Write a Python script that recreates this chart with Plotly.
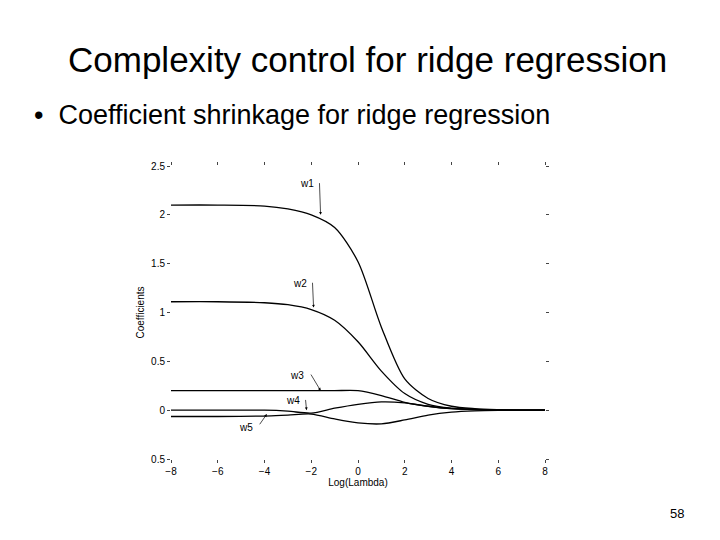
import plotly.graph_objects as go

x = [-8, -6, -4, -3, -2, -1, 0, 1, 2, 3, 4, 5, 6, 7, 8]
w1 = [2.1, 2.1, 2.09, 2.06, 2.0, 1.87, 1.52, 0.85, 0.32, 0.12, 0.04, 0.015, 0.005, 0, 0]
w2 = [1.11, 1.11, 1.1, 1.08, 1.03, 0.92, 0.7, 0.4, 0.17, 0.06, 0.02, 0.008, 0.002, 0, 0]
w3 = [0.2, 0.2, 0.2, 0.2, 0.2, 0.2, 0.2, 0.15, 0.08, 0.04, 0.015, 0.005, 0.001, 0, 0]
w4 = [0, 0, 0, -0.01, -0.03, 0.02, 0.06, 0.085, 0.075, 0.04, 0.015, 0.005, 0.001, 0, 0]
w5 = [-0.065, -0.065, -0.06, -0.05, -0.04, -0.09, -0.13, -0.14, -0.1, -0.05, -0.02, -0.007, -0.002, 0, 0]
series = {"w1": w1, "w2": w2, "w3": w3, "w4": w4, "w5": w5}
xticks = [-8, -6, -4, -2, 0, 2, 4, 6, 8]
yticks = [-0.5, 0, 0.5, 1, 1.5, 2, 2.5]

fig = go.Figure()
for name, ys in series.items():
    fig.add_trace(go.Scatter(x=x, y=ys, mode="lines", name=name,
                             line=dict(color="black", width=1.3, shape="spline", smoothing=0.8)))

labels = [("w1", -2.2, 2.32, -1.6, 2.0), ("w2", -2.5, 1.3, -1.9, 1.05),
          ("w3", -2.6, 0.36, -1.6, 0.2), ("w4", -2.8, 0.1, -2.2, 0.0),
          ("w5", -4.8, -0.18, -3.9, -0.04)]
for t, lx, ly, ax, ay in labels:
    fig.add_annotation(x=lx, y=ly, text=t, showarrow=False, font=dict(size=10, color="black"))
    fig.add_annotation(x=ax, y=ay, ax=lx + 0.55, ay=ly + 0.02, axref="x", ayref="y",
                       text="", showarrow=True, arrowhead=2, arrowsize=0.8, arrowwidth=0.7,
                       arrowcolor="black")

fig.update_layout(
    width=720, height=540, paper_bgcolor="white", plot_bgcolor="white",
    showlegend=False, margin=dict(l=163, r=183, t=158, b=89),
    font=dict(family="Liberation Sans, Arial", color="black"),
    xaxis=dict(range=[-8, 8], tickvals=xticks, ticks="outside", ticklen=3, mirror="ticks",
               showgrid=False, zeroline=False, showline=False, tickfont=dict(size=10),
               title=dict(text="Log(Lambda)", font=dict(size=10), standoff=2)),
    yaxis=dict(range=[-0.5, 2.5], tickvals=yticks, ticktext=["0.5", "0", "0.5", "1", "1.5", "2", "2.5"],
               ticks="outside", ticklen=3, mirror="ticks",
               showgrid=False, zeroline=False, showline=False, tickfont=dict(size=10),
               title=dict(text="Coefficients", font=dict(size=10), standoff=4)),
)
fig.add_annotation(xref="paper", yref="paper", xanchor="center", yanchor="middle",
                   x=(359 - 163) / 374, y=(540 - 52 - 89) / 293,
                   text="Complexity control for ridge regression", showarrow=False,
                   font=dict(size=35, color="black"))
fig.add_annotation(xref="paper", yref="paper", xanchor="left", yanchor="middle",
                   x=(24 - 163) / 374, y=(540 - 107 - 89) / 293,
                   text="•  Coefficient shrinkage for ridge regression", showarrow=False,
                   font=dict(size=27, color="black"))
fig.add_annotation(xref="paper", yref="paper", xanchor="right", yanchor="middle",
                   x=(678 - 163) / 374, y=(540 - 505 - 89) / 293,
                   text="58", showarrow=False, font=dict(size=13, color="black"))

fig.write_html("out.html")
